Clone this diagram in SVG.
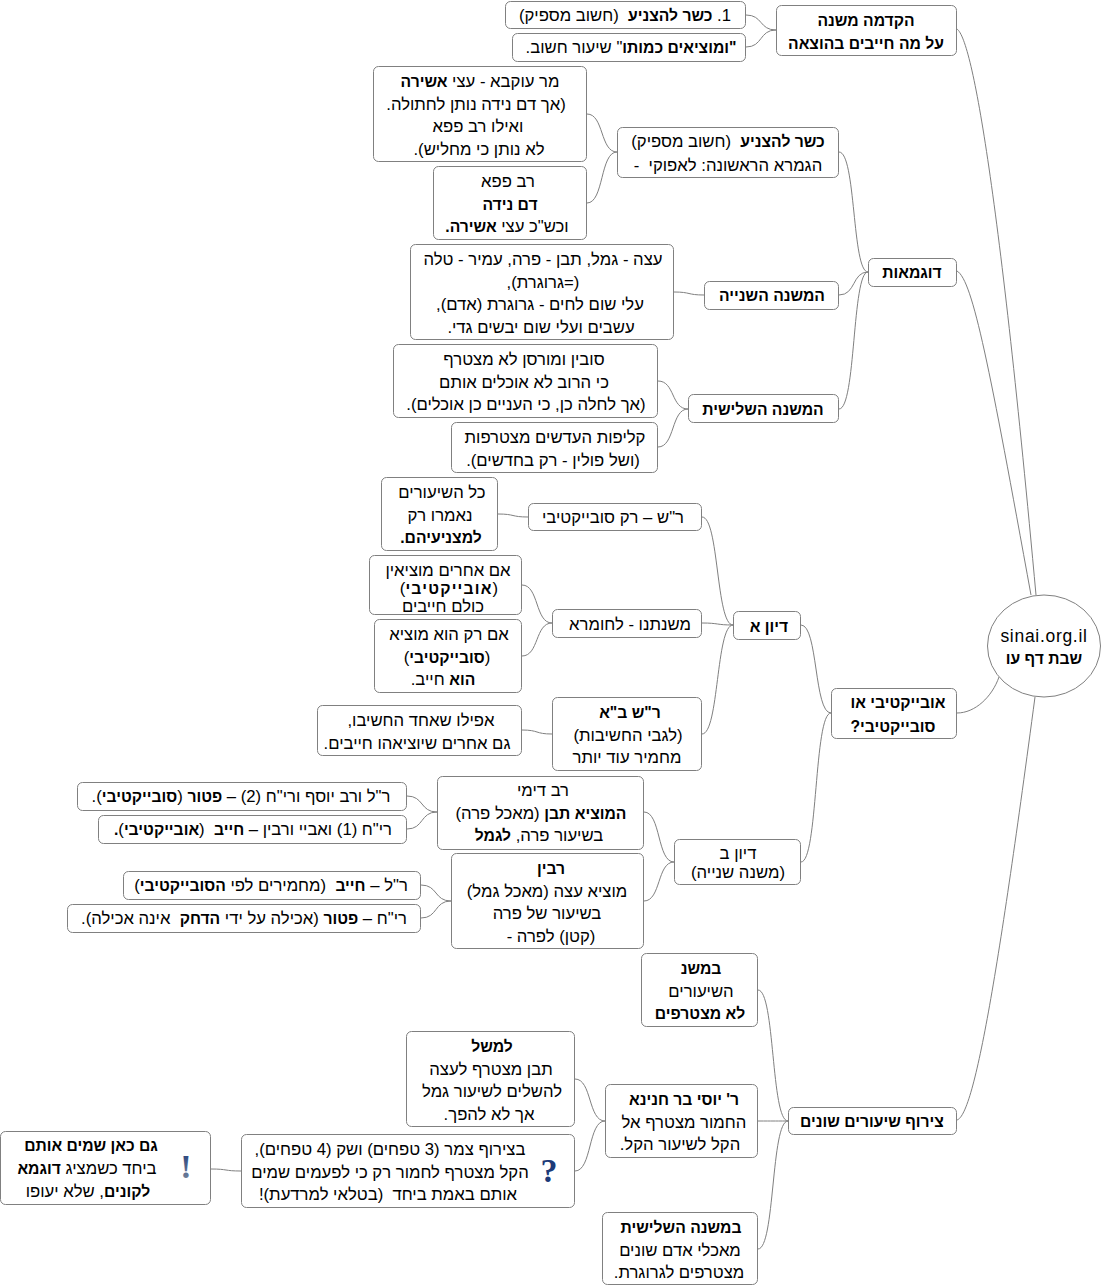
<svg xmlns="http://www.w3.org/2000/svg" width="1101" height="1286" viewBox="0 0 1101 1286">
<style>
rect,ellipse{fill:#fff;stroke:#808080;stroke-width:1}
path{fill:none;stroke:#808080;stroke-width:1}
text{font-family:"Liberation Sans",Arial,sans-serif;font-size:16.7px;fill:#000;text-anchor:middle;direction:rtl;white-space:pre}
.b{font-weight:bold;font-size:15.7px}
.icon{font-family:"Liberation Serif",serif;font-weight:bold;font-size:34px}
</style>
<defs>
<linearGradient id="ex" x1="0" y1="0" x2="0" y2="1"><stop offset="0" stop-color="#1c3a78"/><stop offset="1" stop-color="#7f8ca0"/></linearGradient>
</defs>
<g id="connectors">
<path d="M746 15C763 15 759 30 776 30"/>
<path d="M746 47C763 47 759 30 776 30"/>
<path d="M957 29C973 40 1000 200 1036 595"/>
<path d="M587 114C604 114 600 152 617 152"/>
<path d="M587 203C604 203 600 152 617 152"/>
<path d="M839 152C856 152 852 272 868 272"/>
<path d="M839 295C856 295 852 272 868 272"/>
<path d="M839 409C856 409 852 272 868 272"/>
<path d="M674 292C691 292 687 295 704 295"/>
<path d="M658 381C675 381 671 409 688 409"/>
<path d="M658 447C675 447 671 409 688 409"/>
<path d="M957 271C973 280 990 370 1031 595"/>
<path d="M498 514C515 514 511 517 528 517"/>
<path d="M522 585C539 585 535 623 552 623"/>
<path d="M522 656C539 656 535 623 552 623"/>
<path d="M522 730C539 730 535 734 552 734"/>
<path d="M702 517C719 517 716 625 733 625"/>
<path d="M702 623C719 623 716 625 733 625"/>
<path d="M702 734C719 734 716 625 733 625"/>
<path d="M801 625C818 625 814 713 831 713"/>
<path d="M801 862C818 862 814 713 831 713"/>
<path d="M407 796C424 796 420 812 437 812"/>
<path d="M407 829C424 829 420 812 437 812"/>
<path d="M421 885C438 885 434 901 451 901"/>
<path d="M421 918C438 918 434 901 451 901"/>
<path d="M644 812C661 812 657 862 674 862"/>
<path d="M644 901C661 901 657 862 674 862"/>
<path d="M957 713C975 713 992 697 999 677"/>
<path d="M758 990C775 990 771 1121 788 1121"/>
<path d="M758 1121C775 1121 771 1121 788 1121"/>
<path d="M758 1249C775 1249 771 1121 788 1121"/>
<path d="M575 1079C592 1079 588 1121 605 1121"/>
<path d="M575 1171C592 1171 588 1121 605 1121"/>
<path d="M211 1169C228 1169 224 1171 241 1171"/>
<path d="M957 1120C975 1115 1000 960 1035 697"/>
</g>
<g id="root"><ellipse cx="1044" cy="646" rx="56.500" ry="51"/><text x="1044" y="642" style="direction:ltr;letter-spacing:.7px;font-size:17.5px">sinai.org.il</text><text x="1044" y="664" class="b">שבת דף עו</text></g>
<g id="n-hakdama"><rect x="776.500" y="5.500" width="180" height="50" rx="5"/><text x="866" y="26" class="b">הקדמה משנה</text><text x="866" y="49" class="b">על מה חייבים בהוצאה</text></g>
<g id="n-1"><rect x="505.500" y="1.500" width="240" height="27" rx="5"/><text x="625" y="21">1. <tspan class="b">כשר להצניע</tspan>  (חשוב מספיק)</text></g>
<g id="n-2"><rect x="512.500" y="33.500" width="233" height="28" rx="5"/><text x="631" y="53"><tspan class="b">"ומוציאים כמותו</tspan>" שיעור חשוב.</text></g>
<g id="n-kasher"><rect x="617.500" y="127.500" width="221" height="50" rx="5"/><text x="728" y="147"><tspan class="b">כשר להצניע</tspan>  (חשוב מספיק)</text><text x="728" y="171">הגמרא הראשונה: לאפוקי  -</text></g>
<g id="n-ukva"><rect x="373.500" y="66.500" width="213" height="95" rx="5"/><text x="480" y="87">מר עוקבא - עצי <tspan class="b">אשירה</tspan></text><text x="476" y="110">(אך דם נידה נותן לחתולה.</text><text x="478" y="132">ואילו רב פפא</text><text x="479" y="155">לא נותן כי מחליש).</text></g>
<g id="n-papa"><rect x="433.500" y="166.500" width="153" height="73" rx="5"/><text x="508" y="187">רב פפא</text><text x="510" y="210" class="b">דם נידה</text><text x="507" y="232">וכש"כ עצי <tspan class="b">אשירה.</tspan></text></g>
<g id="n-dugmaot"><rect x="868.500" y="258.500" width="88" height="28" rx="5"/><text x="912" y="278" class="b">דוגמאות</text></g>
<g id="n-shniya"><rect x="704.500" y="281.500" width="134" height="28" rx="5"/><text x="772" y="301" class="b">המשנה השנייה</text></g>
<g id="n-etza"><rect x="410.500" y="244.500" width="263" height="95" rx="5"/><text x="543" y="265">עצה - גמל, תבן - פרה, עמיר - טלה</text><text x="543" y="288">(=גרוגרת),</text><text x="540" y="310">עלי שום לחים - גרוגרת (אדם),</text><text x="541" y="333">עשבים ועלי שום יבשים גדי.</text></g>
<g id="n-shlishit"><rect x="688.500" y="394.500" width="150" height="28" rx="5"/><text x="763" y="415" class="b">המשנה השלישית</text></g>
<g id="n-subin"><rect x="393.500" y="344.500" width="264" height="73" rx="5"/><text x="524" y="365">סובין ומורסן לא מצטרף</text><text x="524" y="388">כי הרוב לא אוכלים אותם</text><text x="526" y="410">(אך לחלה כן, כי העניים כן אוכלים).</text></g>
<g id="n-klipot"><rect x="451.500" y="422.500" width="206" height="50" rx="5"/><text x="555" y="443">קליפות העדשים מצטרפות</text><text x="553" y="466">(ושל פולין - רק בחדשים).</text></g>
<g id="n-obj"><rect x="831.500" y="688.500" width="125" height="50" rx="5"/><text x="898" y="708" class="b">אובייקטיבי או</text><text x="893" y="732" class="b">סובייקטיבי?</text></g>
<g id="n-diunA"><rect x="733.500" y="611.500" width="67" height="28" rx="5"/><text x="769" y="632" class="b">דיון א</text></g>
<g id="n-rash"><rect x="528.500" y="503.500" width="173" height="27" rx="5"/><text x="613" y="523">ר"ש – רק סובייקטיבי</text></g>
<g id="n-kol"><rect x="381.500" y="477.500" width="116" height="73" rx="5"/><text x="442" y="498">כל השיעורים</text><text x="440" y="521">נאמרו רק</text><text x="441" y="543" class="b">למצניעיהם.</text></g>
<g id="n-mishnatenu"><rect x="552.500" y="609.500" width="149" height="28" rx="5"/><text x="630" y="630">משנתנו - לחומרא</text></g>
<g id="n-acherim"><rect x="369.500" y="555.500" width="152" height="59" rx="5"/><text x="448" y="576">אם אחרים מוציאין</text><text x="449" y="594">(<tspan class="b" style="letter-spacing:1.2px">אובייקטיבי</tspan>)</text><text x="443" y="612">כולם חייבים</text></g>
<g id="n-rak"><rect x="374.500" y="619.500" width="147" height="73" rx="5"/><text x="449" y="640">אם רק הוא מוציא</text><text x="447" y="663">(<tspan class="b">סובייקטיבי</tspan>)</text><text x="443" y="685"><tspan class="b">הוא</tspan> חייב.</text></g>
<g id="n-rashba"><rect x="552.500" y="697.500" width="149" height="73" rx="5"/><text x="630" y="718" class="b">ר"ש ב"א</text><text x="628" y="741">(לגבי החשיבות)</text><text x="627" y="763">מחמיר עוד יותר</text></g>
<g id="n-afilu"><rect x="317.500" y="705.500" width="204" height="50" rx="5"/><text x="421" y="726">אפילו שאחד החשיבו,</text><text x="417" y="749">גם אחרים שיוציאהו חייבים.</text></g>
<g id="n-diunB"><rect x="674.500" y="839.500" width="126" height="45" rx="5"/><text x="738" y="859">דיון ב</text><text x="738" y="878">(משנה שנייה)</text></g>
<g id="n-dimi"><rect x="437.500" y="776.500" width="206" height="73" rx="5"/><text x="543" y="796">רב דימי</text><text x="541" y="819"><tspan class="b">המוציא תבן</tspan> (מאכל פרה)</text><text x="539" y="841">בשיעור פרה, <tspan class="b">לגמל</tspan></text></g>
<g id="n-resh1"><rect x="77.500" y="782.500" width="329" height="28" rx="5"/><text x="241" y="802">ר"ל ורב יוסף ורי"ח (2) – <tspan class="b">פטור</tspan> (<tspan class="b">סובייקטיבי</tspan>).</text></g>
<g id="n-rich1"><rect x="98.500" y="815.500" width="308" height="28" rx="5"/><text x="253" y="835">רי"ח (1) ואביי ורבין – <tspan class="b">חייב</tspan>  (<tspan class="b">אובייקטיבי</tspan>)<tspan class="b">.</tspan></text></g>
<g id="n-ravin"><rect x="451.500" y="853.500" width="192" height="95" rx="5"/><text x="551" y="874" class="b">רבין</text><text x="547" y="897">מוציא עצה (מאכל גמל)</text><text x="547" y="919">בשיעור של פרה</text><text x="551" y="942">(קטן) לפרה -</text></g>
<g id="n-resh2"><rect x="123.500" y="871.500" width="297" height="28" rx="5"/><text x="271" y="891">ר"ל – <tspan class="b">חייב</tspan>  (מחמירים לפי <tspan class="b">הסובייקטיבי</tspan>)</text></g>
<g id="n-rich2"><rect x="67.500" y="904.500" width="353" height="28" rx="5"/><text x="244" y="924">רי"ח – <tspan class="b">פטור</tspan> (אכילה על ידי <tspan class="b">הדחק</tspan>  אינה אכילה).</text></g>
<g id="n-tziruf"><rect x="788.500" y="1107.500" width="168" height="27" rx="5"/><text x="872" y="1127" class="b">צירוף שיעורים שונים</text></g>
<g id="n-bamishna"><rect x="641.500" y="953.500" width="116" height="73" rx="5"/><text x="701" y="974" class="b">במשנ</text><text x="701" y="997">השיעורים</text><text x="700" y="1019" class="b">לא מצטרפים</text></g>
<g id="n-yosi"><rect x="605.500" y="1084.500" width="152" height="73" rx="5"/><text x="684" y="1105" class="b">ר' יוסי בר חנינא</text><text x="684" y="1128">החמור מצטרף אל</text><text x="680" y="1150">הקל לשיעור הקל.</text></g>
<g id="n-lemashal"><rect x="406.500" y="1031.500" width="168" height="95" rx="5"/><text x="492" y="1052" class="b">למשל</text><text x="491" y="1075">תבן מצטרף לעצה</text><text x="492" y="1097">להשלים לשיעור גמל</text><text x="489" y="1120">אך לא להפך.</text></g>
<g id="n-tzemer"><rect x="241.500" y="1134.500" width="333" height="73" rx="5"/><text x="390" y="1155">בצירוף צמר (3 טפחים) ושק (4 טפחים),</text><text x="390" y="1178">הקל מצטרף לחמור רק כי לפעמים שמים</text><text x="388" y="1200">אותם באמת ביחד  (בטלאי למרדעת)!</text><text x="549" y="1182" class="icon" style="fill:#1c3a78">?</text></g>
<g id="n-gam"><rect x="0.500" y="1131.500" width="210" height="73" rx="5"/><text x="91" y="1151" class="b">גם כאן שמים אותם</text><text x="87" y="1174">ביחד כשמציג <tspan class="b">דוגמא</tspan></text><text x="88" y="1197"><tspan class="b">לקונים</tspan>, שלא יעופו</text><text x="186" y="1178" class="icon" style="fill:url(#ex)">!</text></g>
<g id="n-third"><rect x="602.500" y="1212.500" width="155" height="72" rx="5"/><text x="681" y="1233" class="b">במשנה השלישית</text><text x="680" y="1256">מאכלי אדם שונים</text><text x="679" y="1278">מצטרפים לגרוגרת.</text></g>
</svg>
